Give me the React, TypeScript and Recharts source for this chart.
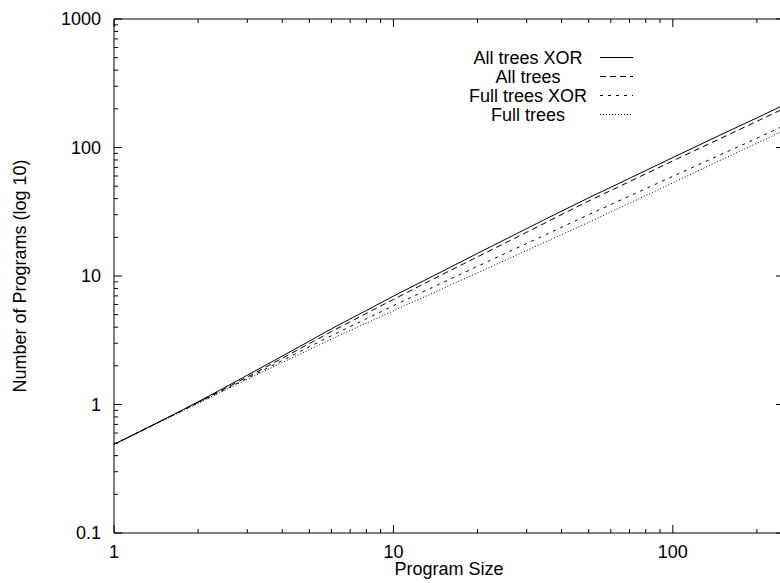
import React from 'react';
import { LineChart, Line, XAxis, YAxis, Legend } from 'recharts';

const sizes = [1, 2, 3, 4, 5, 6, 8, 10, 15, 20, 30, 50, 70, 100, 150, 200, 250];
const allTreesXor = [0.49, 1.05, 1.69, 2.38, 3.11, 3.88, 5.39, 6.97, 10.9, 15.0, 23.4, 40.6, 57.6, 83.5, 127, 170, 214];
const allTrees = [0.49, 1.04, 1.64, 2.29, 2.98, 3.69, 5.11, 6.57, 10.3, 14.1, 21.9, 38.3, 54.3, 78.7, 119, 160, 201];
const fullTreesXor = [0.49, 1.03, 1.6, 2.2, 2.81, 3.43, 4.64, 5.87, 8.88, 11.9, 17.9, 30.0, 41.9, 59.6, 89, 118, 148];
const fullTrees = [0.49, 1.02, 1.57, 2.12, 2.67, 3.23, 4.3, 5.36, 7.97, 10.6, 15.8, 26.2, 36.9, 53.1, 80.6, 108, 136];

const seriesNames = ['All trees XOR', 'All trees', 'Full trees XOR', 'Full trees'];
const seriesKeys = ['a', 'b', 'c', 'd'];
const seriesDash = ['', '6 4', '3 5', '1 2'];

const xMajorTicks = [1, 10, 100];
const xMinorTicks = [2, 3, 4, 5, 6, 7, 8, 9, 20, 30, 40, 50, 60, 70, 80, 90, 200];
const yMajorTicks = [0.1, 1, 10, 100, 1000];
const yMinorTicks = [0.2, 0.3, 0.4, 0.5, 0.6, 0.7, 0.8, 0.9, 2, 3, 4, 5, 6, 7, 8, 9, 20, 30, 40, 50, 60, 70, 80, 90, 200, 300, 400, 500, 600, 700, 800, 900];

const xTitle = 'Program Size';
const yTitle = 'Number of Programs (log 10)';

const data = sizes.map((s, i) => ({
  size: s,
  a: allTreesXor[i],
  b: allTrees[i],
  c: fullTreesXor[i],
  d: fullTrees[i],
}));

const FONT = '"Liberation Sans", Arial, Helvetica, sans-serif';
const FS = 18;

const allX = [...xMajorTicks, ...xMinorTicks].sort((p, q) => p - q);
const allY = [...yMajorTicks, ...yMinorTicks].sort((p, q) => p - q);

const BottomTick = (props: any) => {
  const { x, y, payload } = props;
  const v = payload.value;
  const major = xMajorTicks.includes(v);
  return (
    <g>
      <line x1={x} x2={x} y1={y} y2={y - (major ? 8 : 4)} stroke="#000" strokeWidth={1} />
      {major && (
        <text x={x} y={y + 25} textAnchor="middle" fontSize={FS} fontFamily={FONT} fill="#000">
          {String(v)}
        </text>
      )}
    </g>
  );
};

const TopTick = (props: any) => {
  const { x, y, payload } = props;
  const major = xMajorTicks.includes(payload.value);
  return <line x1={x} x2={x} y1={y} y2={y + (major ? 8 : 4)} stroke="#000" strokeWidth={1} />;
};

const LeftTick = (props: any) => {
  const { x, y, payload } = props;
  const v = payload.value;
  const major = yMajorTicks.includes(v);
  return (
    <g>
      <line x1={x} x2={x + (major ? 8 : 4)} y1={y} y2={y} stroke="#000" strokeWidth={1} />
      {major && (
        <text x={x - 13} y={y} dy="0.36em" textAnchor="end" fontSize={FS} fontFamily={FONT} fill="#000">
          {String(v)}
        </text>
      )}
    </g>
  );
};

const RightTick = (props: any) => {
  const { x, y, payload } = props;
  const major = yMajorTicks.includes(payload.value);
  return <line x1={x} x2={x - (major ? 8 : 4)} y1={y} y2={y} stroke="#000" strokeWidth={1} />;
};

const XTitle = (props: any) => {
  const vb = props.viewBox || {};
  return (
    <text x={vb.x + vb.width / 2} y={vb.y + 42} textAnchor="middle" fontSize={FS} fontFamily={FONT} fill="#000">
      {xTitle}
    </text>
  );
};

const YTitle = (props: any) => {
  const vb = props.viewBox || {};
  const cx = vb.x - 87;
  const cy = vb.y + vb.height / 2;
  return (
    <text
      x={cx}
      y={cy}
      transform={`rotate(-90 ${cx} ${cy})`}
      textAnchor="middle"
      fontSize={FS}
      fontFamily={FONT}
      fill="#000"
    >
      {yTitle}
    </text>
  );
};

const LegendBox = () => (
  <svg width={800} height={583} style={{ overflow: 'visible' }}>
    {seriesNames.map((name, i) => {
      const cy = 57.5 + i * 19;
      return (
        <g key={name}>
          <text x={528} y={cy} dy="0.36em" textAnchor="middle" fontSize={FS} fontFamily={FONT} fill="#000">
            {name}
          </text>
          <line x1={600} x2={633} y1={cy} y2={cy} stroke="#000" strokeWidth={1} strokeDasharray={seriesDash[i] || undefined} />
        </g>
      );
    })}
  </svg>
);

export default function App() {
  return (
    <div style={{ position: 'absolute', left: 0, top: 0, width: 780, height: 583, overflow: 'hidden', background: '#fff' }}>
      <LineChart width={800} height={583} data={data} margin={{ top: 18, right: 15, bottom: 49, left: 113 }}>
        <XAxis
          xAxisId="x"
          dataKey="size"
          type="number"
          scale="log"
          domain={[1, 250]}
          allowDataOverflow
          ticks={allX}
          interval={0}
          tickSize={0}
          tickMargin={0}
          height={1}
          stroke="#000"
          tick={<BottomTick />}
          label={<XTitle />}
        />
        <XAxis
          xAxisId="xt"
          orientation="top"
          dataKey="size"
          type="number"
          scale="log"
          domain={[1, 250]}
          allowDataOverflow
          ticks={allX}
          interval={0}
          tickSize={0}
          tickMargin={0}
          height={1}
          stroke="#000"
          tick={<TopTick />}
        />
        <YAxis
          yAxisId="y"
          type="number"
          scale="log"
          domain={[0.1, 1000]}
          allowDataOverflow
          ticks={allY}
          interval={0}
          tickSize={0}
          tickMargin={0}
          width={1}
          stroke="#000"
          tick={<LeftTick />}
          label={<YTitle />}
        />
        <YAxis
          yAxisId="yr"
          orientation="right"
          type="number"
          scale="log"
          domain={[0.1, 1000]}
          allowDataOverflow
          ticks={allY}
          interval={0}
          tickSize={0}
          tickMargin={0}
          width={1}
          stroke="#000"
          tick={<RightTick />}
        />
        {seriesKeys.map((k, i) => (
          <Line
            key={k}
            xAxisId="x"
            yAxisId="y"
            dataKey={k}
            name={seriesNames[i]}
            type="monotone"
            stroke="#000"
            strokeWidth={1}
            strokeDasharray={seriesDash[i] || undefined}
            dot={false}
            activeDot={false}
            isAnimationActive={false}
          />
        ))}
        <Legend
          layout="horizontal"
          verticalAlign="middle"
          align="center"
          content={<LegendBox />}
          wrapperStyle={{ position: 'absolute', left: 0, top: 0, width: 800, height: 583, pointerEvents: 'none' }}
        />
      </LineChart>
    </div>
  );
}
